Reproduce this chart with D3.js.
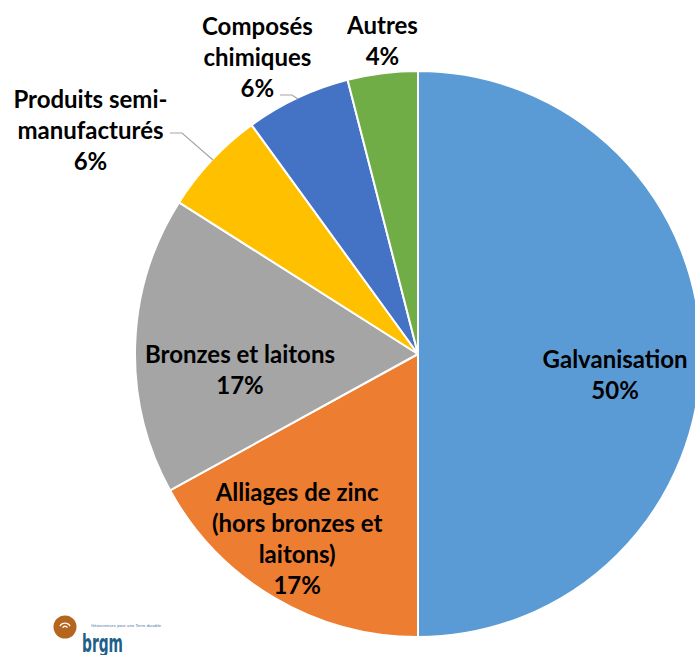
<!DOCTYPE html>
<html lang="fr">
<head>
<meta charset="UTF-8">
<title>Utilisations du zinc</title>
<script src="https://cdn.jsdelivr.net/npm/d3@7"></script>
<style>
  body, html { margin: 0; padding: 0; background: #fff; }
  .lbl { font-family: Lato, "Open Sans", sans-serif; font-weight: bold; font-size: 24px; fill: #000; text-anchor: middle; dominant-baseline: central; }
</style>
</head>
<body>
<svg id="chart" width="695" height="655"></svg>
<script>
// data
const categories = ["Galvanisation", "Alliages de zinc (hors bronzes et laitons)", "Bronzes et laitons",
                    "Produits semi-manufacturés", "Composés chimiques", "Autres"];
const shares = [50, 17, 17, 6, 6, 4];
const labelLines = [
  ["Galvanisation", "50%"],
  ["Alliages de zinc", "(hors bronzes et", "laitons)", "17%"],
  ["Bronzes et laitons", "17%"],
  ["Produits semi-", "manufacturés", "6%"],
  ["Composés", "chimiques", "6%"],
  ["Autres", "4%"]
];
const colors = ["#5B9BD5", "#ED7D31", "#A5A5A5", "#FFC000", "#4472C4", "#70AD47"];

// layout
const cx = 418, cy = 354, radius = 283;
const lineH = 31;
// label placement: radius factor of the label ring + small nudge
const labelRing = [0.7, 0.7, 0.7, 1.2, 1.2, 1.2];
const labelNudge = [[-1, 19], [-20, 13], [20, 21], [-80, 7], [-16, 9], [7, 22]];
// leader lines for outside labels
const leaders = {
  3: [[170, 133], [182, 133], [213, 160]],
  4: [[280, 95], [292, 95], [298, 99]]
};

const svg = d3.select("#chart");
const g = svg.append("g").attr("transform", `translate(${cx},${cy})`);

const pie = d3.pie().sort(null).value(d => d);
const arcs = pie(shares);
const arc = d3.arc().innerRadius(0).outerRadius(radius);

g.selectAll("path.slice")
  .data(arcs)
  .enter()
  .append("path")
  .attr("class", "slice")
  .attr("d", arc)
  .attr("fill", (d, i) => colors[i])
  .attr("stroke", "#fff")
  .attr("stroke-width", 2)
  .attr("stroke-linejoin", "round");

// leader lines
Object.keys(leaders).forEach(k => {
  svg.append("polyline")
    .attr("points", leaders[k].map(p => p.join(",")).join(" "))
    .attr("fill", "none")
    .attr("stroke", "#A6A6A6")
    .attr("stroke-width", 1.2);
});

// labels
arcs.forEach((a, i) => {
  const rr = radius * labelRing[i];
  const c = d3.arc().innerRadius(rr).outerRadius(rr).centroid(a);
  const x = c[0] + labelNudge[i][0];
  const y = c[1] + labelNudge[i][1];
  const lines = labelLines[i];
  const t = g.append("text").attr("class", "lbl");
  lines.forEach((ln, j) => {
    t.append("tspan")
      .attr("x", x)
      .attr("y", y + (j - (lines.length - 1) / 2) * lineH)
      .text(ln);
  });
});

// brgm logo
const logo = svg.append("g").attr("transform", "translate(65,627)");
logo.append("circle").attr("r", 11.5).attr("fill", "#B5651D");
[6.5, 3.4].forEach(r => {
  logo.append("path")
    .attr("d", d3.arc().innerRadius(r - 1.3).outerRadius(r).startAngle(-Math.PI / 3).endAngle(Math.PI / 3)())
    .attr("transform", "translate(0,2)")
    .attr("fill", "#fff");
});
logo.append("text")
  .attr("x", 17).attr("y", 25)
  .attr("font-family", "'DejaVu Sans Condensed', 'Liberation Sans Narrow', sans-serif")
  .attr("font-weight", "bold")
  .attr("font-size", 24)
  .attr("fill", "#1F5F8B")
  .attr("textLength", 41)
  .attr("lengthAdjust", "spacingAndGlyphs")
  .text("brgm");
logo.append("text")
  .attr("x", 26).attr("y", 0)
  .attr("font-family", "'Liberation Sans', sans-serif")
  .attr("font-size", 4)
  .attr("fill", "#3B6E98")
  .attr("textLength", 70)
  .text("Géosciences pour une Terre durable");
</script>
</body>
</html>
